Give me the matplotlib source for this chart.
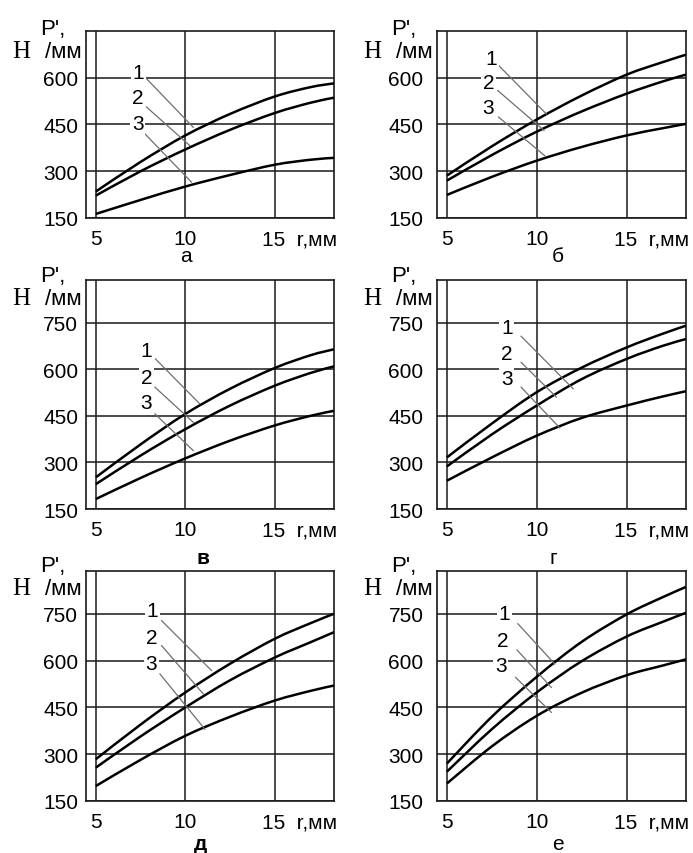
import matplotlib
matplotlib.use('Agg')
import matplotlib.pyplot as plt
from matplotlib.path import Path
from matplotlib.patches import PathPatch

plt.rcParams['font.family'] = ['Liberation Sans', 'DejaVu Sans']

# ---- data ----
r_mm = [5, 7.5, 10, 12.5, 15, 17, 18.3]

a_1 = [235, 330, 415, 484, 540, 570, 582]
a_2 = [222, 300, 370, 433, 487, 520, 536]
a_3 = [163, 208, 251, 288, 321, 337, 343]

b_1 = [286, 380, 466, 543, 610, 650, 674]
b_2 = [270, 352, 427, 492, 549, 588, 610]
b_3 = [224, 282, 334, 378, 415, 438, 452]

v_1 = [252, 358, 456, 537, 604, 645, 664]
v_2 = [230, 322, 407, 483, 547, 588, 609]
v_3 = [182, 250, 313, 370, 419, 450, 466]

g_1 = [316, 425, 526, 605, 670, 714, 740]
g_2 = [287, 390, 483, 568, 633, 675, 697]
g_3 = [241, 316, 386, 443, 483, 512, 529]

d_1 = [284, 395, 498, 590, 670, 720, 750]
d_2 = [257, 357, 450, 537, 610, 659, 691]
d_3 = [198, 282, 359, 420, 472, 503, 520]

e_1 = [270, 420, 548, 660, 748, 803, 836]
e_2 = [244, 380, 498, 598, 677, 724, 753]
e_3 = [206, 325, 423, 497, 553, 584, 604]

panel_letters = ['а', 'б', 'в', 'г', 'д', 'е']
series = [(a_1, a_2, a_3), (b_1, b_2, b_3), (v_1, v_2, v_3),
          (g_1, g_2, g_3), (d_1, d_2, d_3), (e_1, e_2, e_3)]
curve_names = ['1', '2', '3']
x_ticks = [5, 10, 15]
x_ticklabels = ['5', '10', '']
y_ticks_top = [150, 300, 450, 600]
y_ticks_low = [150, 300, 450, 600, 750]

# ---- layout ----
W, H = 693, 854
col_left = [86, 437]
col_w = [248, 249]
row_top = [32, 281, 572]
row_bot = [219, 510, 802]
ylims = [(150, 750), (150, 887), (150, 887)]
letter_x = [0.403, 0.486, 0.47, 0.468, 0.46, 0.486]
letter_dy = [-38, -48, -43]
letter_bold = [False, False, True, False, True, False]
ypad = [6.5, 10.8]
P_dy = [-3, -1, 0]
N_dy = [-26, -24, -23]

# label positions (x, y) and leader lines ((x0, y0), (x1, y1)) per panel
label_pos = [
    [(7.36, 618), (7.33, 538), (7.33, 452)],
    [(7.46, 661), (7.31, 586), (7.31, 506)],
    [(7.83, 660), (7.83, 574), (7.83, 493)],
    [(8.33, 735), (8.33, 649), (8.33, 569)],
    [(8.17, 761), (8.11, 675), (8.11, 589)],
    [(8.20, 750), (8.11, 664), (8.00, 584)],
]
leaders = [
    [((7.83, 597), (10.44, 441)), ((7.83, 506), (10.25, 382)), ((7.74, 420), (10.34, 265))],
    [((7.87, 640), (10.53, 484)), ((7.83, 559), (10.40, 431)), ((7.87, 474), (10.44, 350))],
    [((8.33, 633), (10.81, 488)), ((8.30, 542), (10.44, 429)), ((8.30, 456), (10.44, 338))],
    [((9.13, 706), (12.02, 537)), ((9.13, 622), (11.09, 510)), ((9.13, 542), (11.28, 411))],
    [((8.67, 728), (11.46, 568)), ((8.67, 648), (11.00, 493)), ((8.58, 557), (11.09, 380))],
    [((8.95, 718), (11.00, 589)), ((8.90, 634), (10.81, 514)), ((8.82, 546), (10.81, 434))],
]


def smooth_path(xs, ys):
    """Catmull-Rom curve through the data points, as cubic Bezier segments."""
    pts = list(zip(xs, ys))
    verts = [pts[0]]
    codes = [Path.MOVETO]
    n = len(pts)
    for i in range(n - 1):
        p0 = pts[i - 1] if i > 0 else pts[i]
        p1 = pts[i]
        p2 = pts[i + 1]
        p3 = pts[i + 2] if i + 2 < n else pts[i + 1]
        c1 = (p1[0] + (p2[0] - p0[0]) / 6, p1[1] + (p2[1] - p0[1]) / 6)
        c2 = (p2[0] - (p3[0] - p1[0]) / 6, p2[1] - (p3[1] - p1[1]) / 6)
        verts += [c1, c2, p2]
        codes += [Path.CURVE4] * 3
    return Path(verts, codes)


fig = plt.figure(figsize=(W / 100, H / 100), dpi=100)
dark = '#1a1a1a'
FS = 15

for i in range(6):
    row, col = divmod(i, 2)
    ax = fig.add_axes([col_left[col] / W, 1 - row_bot[row] / H,
                       col_w[col] / W, (row_bot[row] - row_top[row]) / H])
    ax.set_xlim(4.45, 18.3)
    ax.set_ylim(*ylims[row])
    ax.set_xticks(x_ticks)
    ax.set_xticklabels(x_ticklabels)
    ax.set_yticks(y_ticks_top if row == 0 else y_ticks_low)
    ax.tick_params(axis='both', length=0, labelsize=FS, colors='black')
    ax.tick_params(axis='y', pad=ypad[col] - 1)
    ax.tick_params(axis='x', pad=8)
    ax.grid(True, color=dark, lw=1.1)
    ax.set_axisbelow(True)
    for s in ax.spines.values():
        s.set_color(dark)
        s.set_linewidth(1.2)

    for ys in series[i]:
        ax.add_patch(PathPatch(smooth_path(r_mm, ys), facecolor='none',
                               edgecolor='black', lw=1.8, zorder=3))

    for k in range(3):
        (x0, y0), (x1, y1) = leaders[i][k]
        ax.plot([x0, x1], [y0, y1], color='#6e6e6e', lw=0.9, zorder=4)
        lx, ly = label_pos[i][k]
        ax.text(lx, ly, curve_names[k], fontsize=FS, ha='center', va='center',
                zorder=5, bbox=dict(facecolor='white', edgecolor='none', pad=1.2))

    # x label "15  r,мм"
    ax.annotate('15  r,мм', xy=(15, 0), xycoords=('data', 'axes fraction'),
                xytext=(-13, -8 * 100 / 72), textcoords='offset pixels',
                ha='left', va='top', fontsize=FS)

    # y label P', Н /мм
    ax.annotate("P',", xy=(0, 1), xycoords='axes fraction',
                xytext=(-46, P_dy[row]), textcoords='offset pixels',
                ha='left', va='baseline', fontsize=FS + 1)
    ax.annotate('Н', xy=(0, 1), xycoords='axes fraction',
                xytext=(-74, N_dy[row]), textcoords='offset pixels',
                ha='left', va='baseline', fontsize=18,
                family=['Liberation Serif', 'DejaVu Serif'])
    ax.annotate('/мм', xy=(0, 1), xycoords='axes fraction',
                xytext=(-4, N_dy[row]), textcoords='offset pixels',
                ha='right', va='baseline', fontsize=16)

    # panel letter
    ax.annotate(panel_letters[i], xy=(letter_x[i], 0), xycoords='axes fraction',
                xytext=(0, letter_dy[row]), textcoords='offset pixels',
                ha='center', va='center', fontsize=FS,
                fontweight='bold' if letter_bold[i] else 'normal')

fig.savefig('out.png', dpi=100, facecolor='white')
